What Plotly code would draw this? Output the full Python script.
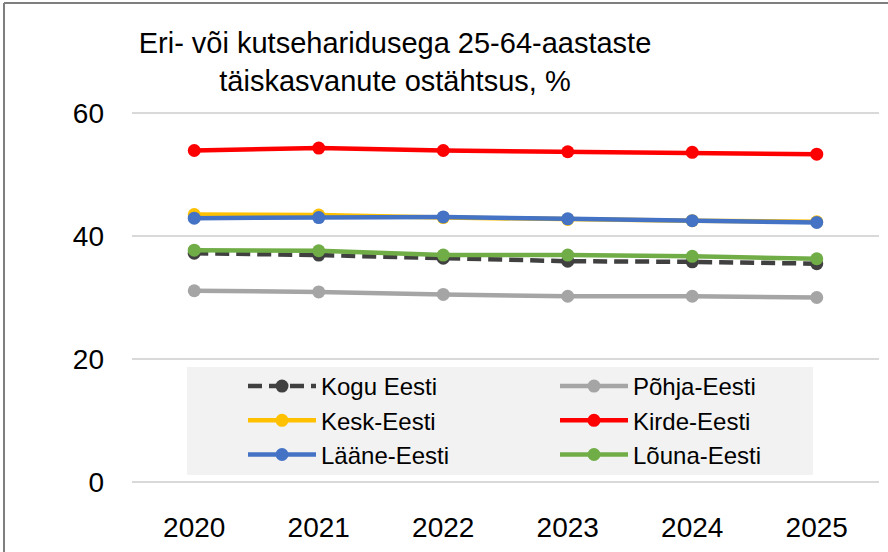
import plotly.graph_objects as go

years = ["2020", "2021", "2022", "2023", "2024", "2025"]
kogu_eesti = [37.2, 36.9, 36.4, 35.9, 35.8, 35.5]
pohja_eesti = [31.1, 30.9, 30.5, 30.2, 30.2, 30.0]
kesk_eesti = [43.5, 43.4, 43.0, 42.7, 42.5, 42.3]
kirde_eesti = [53.9, 54.3, 53.9, 53.7, 53.6, 53.3]
laane_eesti = [42.9, 43.0, 43.1, 42.8, 42.5, 42.2]
louna_eesti = [37.7, 37.6, 36.9, 36.9, 36.7, 36.3]

series = [
    ("Kogu Eesti", kogu_eesti, "#404040", "14px,7px"),
    ("Põhja-Eesti", pohja_eesti, "#a5a5a5", "solid"),
    ("Kesk-Eesti", kesk_eesti, "#ffc000", "solid"),
    ("Kirde-Eesti", kirde_eesti, "#ff0000", "solid"),
    ("Lääne-Eesti", laane_eesti, "#4472c4", "solid"),
    ("Lõuna-Eesti", louna_eesti, "#70ad47", "solid"),
]

FONT = "Liberation Sans, Arial, sans-serif"
W, H = 888, 552
PAD = 2  # extra px above/below so the 0 and 60 gridlines are drawn
L, R, T, B = 132, 9, 113 - PAD, 70 - PAD
PW, PH = W - L - R, H - T - B
UNIT = (PH - 2 * PAD) / 60.0  # px per value unit


def px(x):
    return (x - L) / PW


def py(y):
    return (H - B - y) / PH


fig = go.Figure()
for name, vals, color, dash in series:
    fig.add_trace(go.Scatter(
        x=years, y=vals, name=name, mode="lines+markers",
        line=dict(color=color, width=4.5, dash=dash),
        marker=dict(color=color, size=13, symbol="circle"),
    ))

shapes = [
    # legend background
    dict(type="rect", xref="paper", yref="paper", x0=px(187), x1=px(813),
         y0=py(475), y1=py(367), fillcolor="#f2f2f2", line=dict(width=0), layer="below"),
    # chart border (top and left)
    dict(type="line", xref="paper", yref="paper", x0=px(4), x1=px(900),
         y0=py(3), y1=py(3), line=dict(color="#7f7f7f", width=2)),
    dict(type="line", xref="paper", yref="paper", x0=px(4), x1=px(4),
         y0=py(3), y1=py(560), line=dict(color="#7f7f7f", width=2)),
]

fig.update_layout(
    width=W, height=H,
    margin=dict(l=L, r=R, t=T, b=B),
    paper_bgcolor="white", plot_bgcolor="white",
    font=dict(family=FONT, color="black"),
    title=dict(
        text="Eri- või kutseharidusega 25-64-aastaste<br>täiskasvanute ostähtsus, %",
        x=395 / W, xanchor="center", y=1 - 53 / H, yanchor="top",
        font=dict(size=29, family=FONT, color="black"),
    ),
    xaxis=dict(type="category", range=[-0.5, 5.5], showgrid=False, showline=False,
               zeroline=False, ticks="", tickfont=dict(size=28), ticklabelstandoff=22 + PAD),
    yaxis=dict(range=[-PAD / UNIT, 60 + PAD / UNIT], tickvals=[0, 20, 40, 60], showgrid=True,
               gridcolor="#d9d9d9", gridwidth=1.5,
               zeroline=False, showline=False, ticks="", tickfont=dict(size=28),
               ticklabelstandoff=27),
    legend=dict(orientation="h", x=px(243), xanchor="left", y=py(364), yanchor="top",
                bgcolor="rgba(0,0,0,0)", font=dict(size=24, family=FONT, color="black"),
                itemwidth=68, entrywidth=229, entrywidthmode="pixels"),
    shapes=shapes,
    showlegend=True,
)

fig.write_html("out.html", config={"displayModeBar": False},
               post_script="document.body.style.margin='0';document.body.style.overflow='hidden';")
